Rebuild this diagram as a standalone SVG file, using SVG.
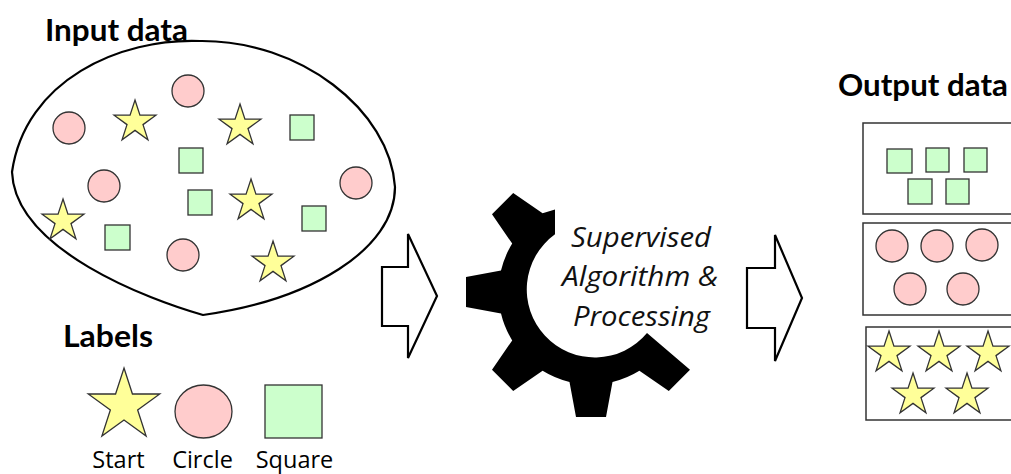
<svg xmlns="http://www.w3.org/2000/svg" width="1011" height="474" viewBox="0 0 1011 474">
<style>
.title{font-family:Lato,"Open Sans","Liberation Sans",sans-serif;font-weight:bold;font-size:30px;fill:#000}
.lbl{font-family:"Open Sans",Lato,"Liberation Sans",sans-serif;font-size:23.5px;fill:#000;text-anchor:middle}
.proc{font-family:"Open Sans",Lato,"Liberation Sans",sans-serif;font-style:italic;font-size:27.5px;fill:#111;text-anchor:middle}
.star{fill:#ffff99;stroke:#333;stroke-width:1.3}
.circ{fill:#ffcccc;stroke:#333;stroke-width:1.3}
.sq{fill:#ccffcc;stroke:#333;stroke-width:1.3}
.box{fill:#fff;stroke:#333;stroke-width:1.5}
.outline{fill:#fff;stroke:#000;stroke-width:2.2;stroke-linejoin:miter}
</style>
<defs>
<path id="st" d="M0,-22 L4.94,-6.8 L20.92,-6.8 L7.99,2.6 L12.93,17.8 L0,8.4 L-12.93,17.8 L-7.99,2.6 L-20.92,-6.8 L-4.94,-6.8 Z"/>
<circle id="ci" r="16"/>
</defs>

<g id="input-data">
<path class="outline" d="M203,315 C150,300 15,250 12,172 C25,80 120,38 200,41 C300,40 390,110 395,187 C395,250 310,300 203,315 Z"/>
<text class="title" x="45" y="41" textLength="143" lengthAdjust="spacingAndGlyphs">Input data</text>
<use href="#ci" class="circ" x="188" y="91"/>
<use href="#ci" class="circ" x="69" y="128"/>
<use href="#ci" class="circ" x="104" y="186"/>
<use href="#ci" class="circ" x="356" y="183"/>
<use href="#ci" class="circ" x="183" y="255"/>
<rect class="sq" x="290" y="115" width="24" height="25"/>
<rect class="sq" x="179" y="148" width="24" height="25"/>
<rect class="sq" x="188" y="190" width="24" height="25"/>
<rect class="sq" x="302" y="206" width="24" height="25"/>
<rect class="sq" x="105" y="225" width="25" height="25"/>
<use href="#st" class="star" x="135" y="122"/>
<use href="#st" class="star" x="240" y="126"/>
<use href="#st" class="star" x="251" y="201"/>
<use href="#st" class="star" x="63" y="221"/>
<use href="#st" class="star" x="273" y="263"/>
</g>

<g id="labels">
<text class="title" x="63" y="347" textLength="90" lengthAdjust="spacingAndGlyphs">Labels</text>
<path class="star" d="M124,368 L132.44,393.98 L159.75,393.98 L137.65,410.04 L146.1,436.02 L124,419.96 L101.9,436.02 L110.35,410.04 L88.25,393.98 L115.56,393.98 Z"/>
<ellipse class="circ" cx="203.5" cy="411.5" rx="28.5" ry="26.5"/>
<rect class="sq" x="265" y="385" width="57" height="53"/>
<text class="lbl" x="118.5" y="467.5">Start</text>
<text class="lbl" x="202.5" y="467.5">Circle</text>
<text class="lbl" x="294.5" y="467.5">Square</text>
</g>

<g id="processing">
<path fill="#000" d="M555,209.5 L542.6,213.2 L513.2,193 L492,214.2 L512.2,243.6 A92.5,92.5 0 0 0 501,270.5 L466,277 L466,307 L501,313.5 A92.5,92.5 0 0 0 512.2,340.4 L492,369.8 L513.2,391 L542.6,370.8 A92.5,92.5 0 0 0 569.5,382 L576,417 L606,417 L612.5,382 A92.5,92.5 0 0 0 639.4,370.8 L668.8,391 L690,369.8 L647,333 A68,68 0 1 1 555,234.3 Z"/>
<text class="proc" x="641" y="247" textLength="140" lengthAdjust="spacingAndGlyphs">Supervised</text>
<text class="proc" x="640" y="286" textLength="156" lengthAdjust="spacingAndGlyphs">Algorithm &amp;</text>
<text class="proc" x="641.5" y="326" textLength="137" lengthAdjust="spacingAndGlyphs">Processing</text>
</g>

<g id="output-data">
<text class="title" x="838" y="96" textLength="170" lengthAdjust="spacingAndGlyphs">Output data</text>
<g id="out-squares">
<rect class="box" x="863" y="123" width="160" height="91"/>
<rect class="sq" x="887" y="149" width="25" height="24"/>
<rect class="sq" x="926" y="148" width="23" height="24"/>
<rect class="sq" x="964" y="148" width="23" height="24"/>
<rect class="sq" x="908" y="179" width="24" height="25"/>
<rect class="sq" x="946" y="179" width="23" height="25"/>
</g>
<g id="out-circles">
<rect class="box" x="863" y="223" width="160" height="92"/>
<use href="#ci" class="circ" x="892" y="246"/>
<use href="#ci" class="circ" x="937" y="246"/>
<use href="#ci" class="circ" x="982" y="245"/>
<use href="#ci" class="circ" x="910" y="289"/>
<use href="#ci" class="circ" x="963" y="289"/>
</g>
<g id="out-stars">
<rect class="box" x="866" y="327" width="160" height="93"/>
<use href="#st" class="star" x="889" y="353"/>
<use href="#st" class="star" x="939" y="353"/>
<use href="#st" class="star" x="988" y="353"/>
<use href="#st" class="star" x="913" y="395"/>
<use href="#st" class="star" x="967" y="395"/>
</g>
</g>

<g id="connectors">
<path class="outline" d="M408,267 L408,234 L437,296 L408,358 L408,326 L382,326 L382,267 Z"/>
<path class="outline" d="M775,268 L775,235 L802,298 L775,361 L775,328 L747,328 L747,268 Z"/>
</g>
</svg>
